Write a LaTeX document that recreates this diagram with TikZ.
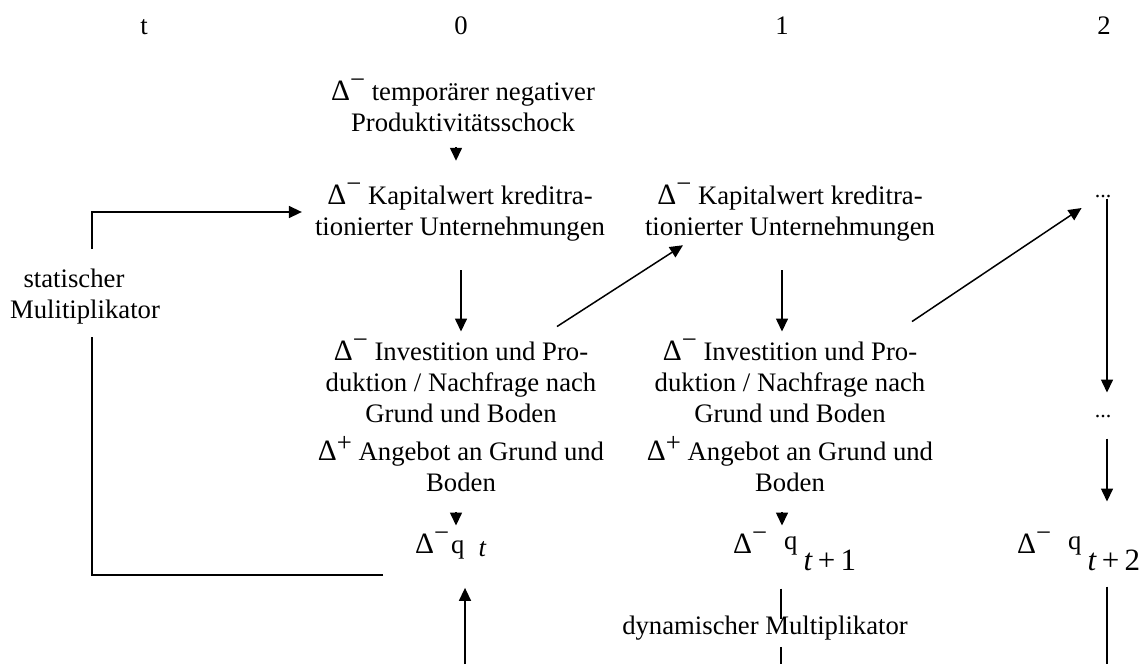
\documentclass[tikz,border=0pt]{standalone}
\usepackage{fontspec}
\setmainfont{Liberation Serif}
\usetikzlibrary{arrows.meta}
\newcommand\fs{\fontsize{26.7}{31}\selectfont}
\newcommand\Dl{{\fontsize{29.5}{31}\selectfont Δ}}
\newcommand\Dm{\Dl\raisebox{0.44em}{−}}
\newcommand\Dp{\Dl\raisebox{0.32em}{+}}
\begin{document}
\begin{tikzpicture}[x=1pt,y=-1pt,
  txt/.style={font=\fs,align=center,inner sep=0pt},
  dots/.style={font=\fontsize{22}{22}\selectfont,inner sep=0pt,anchor=base},
  arr/.style={line width=1.5pt,-{Triangle[length=13pt,width=12pt]}},
  ln/.style={line width=1.5pt}]
\useasboundingbox (0,0) rectangle (1139,664);
% header
\node[txt,anchor=base] (ht) at (144,34) {t};
\node[txt,anchor=base] (h0) at (461,34) {0};
\node[txt,anchor=base] (h1) at (782,34) {1};
\node[txt,anchor=base] (h2) at (1104,34) {2};
% column 0
\node[txt] (shock) at (463,105) {\Dm{} temporärer negativer\\Produktivitätsschock};
\node[txt] (K0) at (460,212) {\Dm{} Kapitalwert kreditra-\\tionierter Unternehmungen};
\node[txt] (I0) at (461,415) {\Dm{} Investition und Pro-\\duktion / Nachfrage nach\\Grund und Boden\\[7pt]\Dp{} Angebot an Grund und\\Boden};
\node[txt,anchor=base west] (q0) at (415,553) {\Dm{}\hspace{2pt}q\hspace{14pt}\raisebox{-3pt}{\textit{t}}};
% column 1
\node[txt] (K1) at (790,212) {\Dm{} Kapitalwert kreditra-\\tionierter Unternehmungen};
\node[txt] (I1) at (790,415) {\Dm{} Investition und Pro-\\duktion / Nachfrage nach\\Grund und Boden\\[7pt]\Dp{} Angebot an Grund und\\Boden};
\node[txt,anchor=base west] (q1) at (733,553) {\Dm{}\hspace{17pt}\raisebox{4pt}{q}\hspace{6pt}\raisebox{-17pt}{\fontsize{31}{31}\selectfont\textit{t}\,+\,1}};
% column 2
\node[dots] (d1) at (1103,197) {...};
\node[dots] (d2) at (1103,417) {...};
\node[txt,anchor=base west] (q2) at (1017,553) {\Dm{}\hspace{17pt}\raisebox{4pt}{q}\hspace{6pt}\raisebox{-17pt}{\fontsize{31}{31}\selectfont\textit{t}\,+\,2}};
% labels
\node[txt] (stat) at (85,297) {statischer\rule{22pt}{0pt}\\Mulitiplikator};
\node[txt,anchor=base] (dyn) at (765,634) {dynamischer Multiplikator};
% helper coordinates
\coordinate (xs) at (456,0);
\coordinate (xl) at (461,0);
\coordinate (x1) at (782,0);
\coordinate (xr) at (1107,0);
\coordinate (xL) at (92,0);
\coordinate (sl) at (383,575);
\coordinate (b0) at (465,664);
\coordinate (b1) at (781,664);
\coordinate (b2) at (1107,664);
% arrows column 0
\draw[arr,shorten <=16pt,shorten >=22pt] (shock.south -| xs) -- (K0.north -| xs);
\draw[arr,shorten <=29pt,shorten >=7pt] (K0.south -| xl) -- (I0.north -| xl);
\draw[arr,shorten <=21pt,shorten >=6pt] (I0.south -| xs) -- (q0.north -| xs);
% arrows column 1
\draw[arr,shorten <=29pt,shorten >=7pt] (K1.south -| x1) -- (I1.north -| x1);
\draw[arr,shorten <=21pt,shorten >=6pt] (I1.south -| x1) -- (q1.north -| x1);
% diagonals
\draw[arr] ([shift={(96,-12)}]I0.north) -- ([shift={(-107,4)}]K1.south);
\draw[arr] ([shift={(122,-17)}]I1.north) -- ([shift={(-13,12)}]d1.west);
% column 2
\draw[arr,shorten <=1pt,shorten >=22pt] (d1.south -| xr) -- (d2.north -| xr);
\draw[arr,shorten <=21pt,shorten >=30pt] (d2.south -| xr) -- (q2.north -| xr);
\draw[ln,shorten <=16pt] (q2.south -| xr) -- (b2);
% dynamic multiplier
\draw[ln,shorten <=18pt,shorten >=-4pt] (q1.south -| b1) -- (dyn.north -| b1);
\draw[ln,shorten <=7pt] (dyn.south -| b1) -- (b1);
\draw[arr,shorten >=29pt] (b0) -- (q0.south -| b0);
% static multiplier loop
\draw[ln,shorten >=12pt] (sl) -| (stat.south -| xL);
\draw[arr,shorten <=20pt,shorten >=13pt] (stat.north -| xL) |- (K0.west);
\end{tikzpicture}
\end{document}
